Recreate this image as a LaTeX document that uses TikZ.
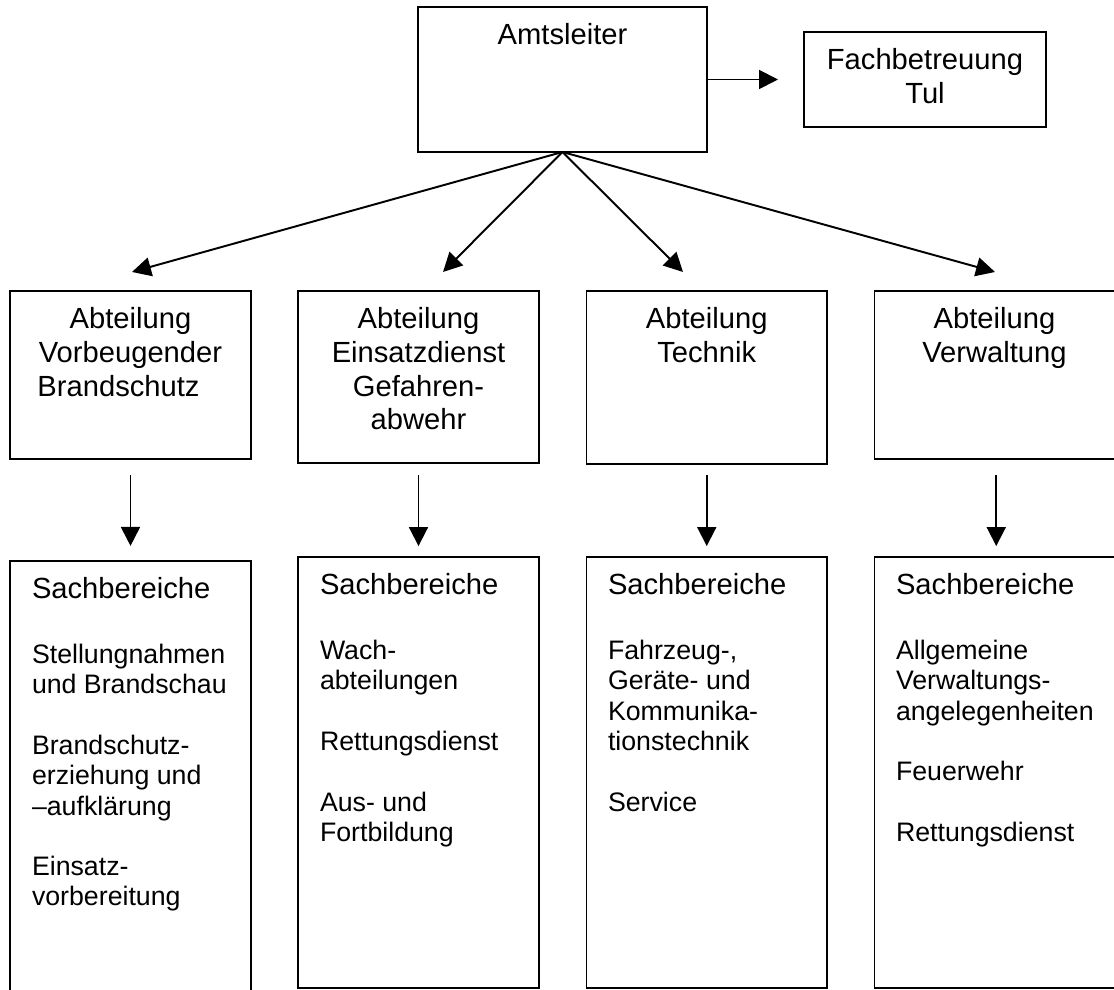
\documentclass[tikz,border=0pt]{standalone}
\usepackage{fontspec}
\setmainfont{Liberation Sans}
\usetikzlibrary{arrows.meta}
\tikzset{
  box/.style={draw, line width=0.8pt, inner sep=0pt, outer sep=0pt},
  arr/.style={line width=0.8pt, -{Triangle[length=7.8pt,width=7.8pt]}},
  bigtxt/.style={inner sep=0pt, outer sep=0pt, align=center, font=\fontsize{12}{13.8}\selectfont},
  headtxt/.style={inner sep=0pt, outer sep=0pt, anchor=base west, font=\fontsize{12}{13.8}\selectfont},
  itemtxt/.style={inner sep=0pt, outer sep=0pt, anchor=north west, align=left, font=\fontsize{11}{12.47}\selectfont}
}
\begin{document}
\begin{tikzpicture}[x=0.4115pt, y=-0.4115pt]
\useasboundingbox (0,0) rectangle (1114,990);
\clip (0,0) rectangle (1114,990);
% top boxes
\node[box, minimum width=118.92pt, minimum height=59.67pt] (A) at (562.5,79.5) {};
\node[box, minimum width=99.58pt, minimum height=39.09pt] (F) at (925,79.5) {};
\node[bigtxt, anchor=base] (At) at (562.5,45) {Amtsleiter};
\node[bigtxt, anchor=north] (Ft) at (925,46.5) {\strut Fachbetreuung\\Tul};
% department boxes
\node[box, minimum width=99.17pt, minimum height=69.13pt] (D1) at (130.5,375) {};
\node[box, minimum width=99.17pt, minimum height=70.78pt] (D2) at (418.5,377) {};
\node[box, minimum width=98.97pt, minimum height=71.19pt] (D3) at (706.75,377.5) {};
\node[box, minimum width=100.2pt, minimum height=69.13pt] (D4) at (996.25,375) {};
\node[bigtxt, anchor=north] (D1t) at (130.5,305.5) {\strut Abteilung\\Vorbeugender\\Brandschutz\makebox[0.82em]{}};
\node[bigtxt, anchor=north] (D2t) at (418.5,305.5) {\strut Abteilung\\Einsatzdienst\\Gefahren-\\abwehr};
\node[bigtxt, anchor=north] (D3t) at (706.75,305.5) {\strut Abteilung\\Technik};
\node[bigtxt, anchor=north] (D4t) at (994.5,305.5) {\strut Abteilung\\Verwaltung};
% Sachbereiche boxes
\node[box, minimum width=99.17pt, minimum height=180.65pt] (S1) at (130.5,780.5) {};
\node[box, minimum width=99.17pt, minimum height=177.36pt] (S2) at (418.5,772.5) {};
\node[box, minimum width=98.97pt, minimum height=177.36pt] (S3) at (706.75,772.5) {};
\node[box, minimum width=100.2pt, minimum height=177.36pt] (S4) at (996.25,772.5) {};
\node[headtxt] (S1h) at (32,599) {Sachbereiche};
\node[headtxt] (S2h) at (320,595) {Sachbereiche};
\node[headtxt] (S3h) at (608,595) {Sachbereiche};
\node[headtxt] (S4h) at (896,595) {Sachbereiche};
\node[itemtxt] (S1i) at (32,642.3) {\strut Stellungnahmen\\und Brandschau\\[12.47pt]Brandschutz-\\erziehung und\\–aufklärung\\[12.47pt]Einsatz-\\vorbereitung};
\node[itemtxt] (S2i) at (320,638.3) {\strut Wach-\\abteilungen\\[12.47pt]Rettungsdienst\\[12.47pt]Aus- und\\Fortbildung};
\node[itemtxt] (S3i) at (608,638.3) {\strut Fahrzeug-,\\Geräte- und\\Kommunika-\\tionstechnik\\[12.47pt]Service};
\node[itemtxt] (S4i) at (896,638.3) {\strut Allgemeine\\Verwaltungs-\\angelegenheiten\\[12.47pt]Feuerwehr\\[12.47pt]Rettungsdienst};
% arrow end points
\coordinate (tF) at (778,79.5);
\coordinate (t1) at (132,272);
\coordinate (t2) at (443,272);
\coordinate (t3) at (683,272);
\coordinate (t4) at (995,272);
% connectors
\draw[arr] (A.east) -- (tF);
\draw[arr] (A.south) -- (t1);
\draw[arr] (A.south) -- (t2);
\draw[arr] (A.south) -- (t3);
\draw[arr] (A.south) -- (t4);
\draw[arr, shorten <=6.6pt, shorten >=6.2pt] (D1.south) -- (S1.north);
\draw[arr, shorten <=4.9pt, shorten >=4.5pt] (D2.south) -- (S2.north);
\draw[arr, shorten <=4.5pt, shorten >=4.5pt] (D3.south) -- (S3.north);
\draw[arr, shorten <=6.6pt, shorten >=4.5pt] (D4.south) -- (S4.north);
\end{tikzpicture}
\end{document}
